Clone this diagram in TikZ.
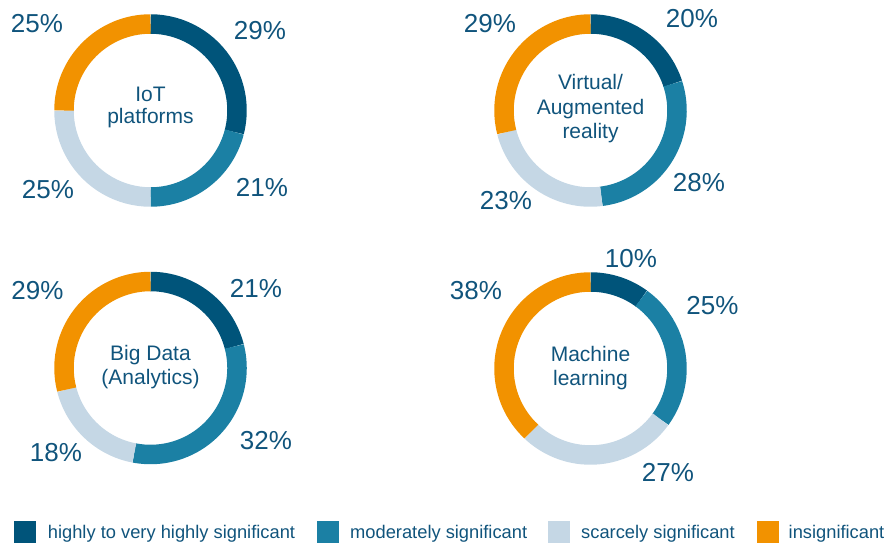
\documentclass[tikz,border=0pt]{standalone}
\usepackage{fontspec}
\setmainfont{Liberation Sans}
\definecolor{cA}{RGB}{0,84,122}
\definecolor{cB}{RGB}{27,128,164}
\definecolor{cC}{RGB}{197,215,229}
\definecolor{cD}{RGB}{242,146,0}
\definecolor{txt}{RGB}{16,84,124}
\tikzset{
  seg/.style={line width=19.5pt, line cap=butt},
  pct/.style={text=txt, font=\fontsize{26}{30}\selectfont, inner sep=0pt, anchor=center},
  ctr/.style={text=txt, font=\fontsize{21}{24}\selectfont, inner sep=0pt, anchor=base},
  swatch/.style={minimum size=22pt, inner sep=0pt, draw=none},
  leg/.style={text=txt, font=\fontsize{18.3}{22}\selectfont, inner sep=0pt, anchor=base west},
}
\newcommand\ringchart[5]{%
  \pgfmathsetmacro\segA{-90+3.6*#2}%
  \pgfmathsetmacro\segB{\segA+3.6*#3}%
  \pgfmathsetmacro\segC{\segB+3.6*#4}%
  \draw[seg,cA] (#1) ++(-90:86.5) arc[start angle=-90,end angle=\segA,radius=86.5];
  \draw[seg,cB] (#1) ++(\segA:86.5) arc[start angle=\segA,end angle=\segB,radius=86.5];
  \draw[seg,cC] (#1) ++(\segB:86.5) arc[start angle=\segB,end angle=\segC,radius=86.5];
  \draw[seg,cD] (#1) ++(\segC:86.5) arc[start angle=\segC,end angle=270,radius=86.5];
}
\begin{document}
\begin{tikzpicture}[x=1pt,y=-1pt]
\useasboundingbox (0,0) rectangle (885,545);
\coordinate (d1) at (150.5,110.5);
\coordinate (d2) at (590.5,110.5);
\coordinate (d3) at (150.5,368);
\coordinate (d4) at (590.5,368.5);
\ringchart{d1}{29}{21}{25}{25}
\ringchart{d2}{20}{28}{23}{29}
\ringchart{d3}{21}{32}{18}{29}
\ringchart{d4}{10}{25}{27}{38}
% centre texts
\node[ctr] (d1a) at (150.5,101.7) {IoT};
\node[ctr] (d1b) at (150.5,124) {platforms};
\node[ctr] (d2a) at (590.5,90) {Virtual/};
\node[ctr] (d2b) at (590.5,114.5) {Augmented};
\node[ctr] (d2c) at (590.5,139) {reality};
\node[ctr] (d3a) at (150.5,360) {Big Data};
\node[ctr] (d3b) at (150.5,384) {(Analytics)};
\node[ctr] (d4a) at (590.5,361.7) {Machine};
\node[ctr] (d4b) at (590.5,385.7) {learning};
% percentages
\node[pct] (p11) at (260,31) {29\%};
\node[pct] (p12) at (262,187.5) {21\%};
\node[pct] (p13) at (48,190) {25\%};
\node[pct] (p14) at (37,24) {25\%};
\node[pct] (p21) at (692,19) {20\%};
\node[pct] (p22) at (699,183) {28\%};
\node[pct] (p23) at (506,201) {23\%};
\node[pct] (p24) at (490,24) {29\%};
\node[pct] (p31) at (256,288) {21\%};
\node[pct] (p32) at (266,441) {32\%};
\node[pct] (p33) at (56,452.5) {18\%};
\node[pct] (p34) at (37.5,291) {29\%};
\node[pct] (p41) at (631,259) {10\%};
\node[pct] (p42) at (712.5,306) {25\%};
\node[pct] (p43) at (668,472.5) {27\%};
\node[pct] (p44) at (476,291) {38\%};
% legend
\node[swatch,fill=cA] (s1) at (25,531.7) {};
\node[leg] (t1) at (47.7,538.3) {highly to very highly significant};
\node[swatch,fill=cB] (s2) at (327.8,531.7) {};
\node[leg] (t2) at (350,538.3) {moderately significant};
\node[swatch,fill=cC] (s3) at (559.2,531.7) {};
\node[leg] (t3) at (581,538.3) {scarcely significant};
\node[swatch,fill=cD] (s4) at (768.2,531.7) {};
\node[leg] (t4) at (788.5,538.3) {insignificant};
\end{tikzpicture}
\end{document}
